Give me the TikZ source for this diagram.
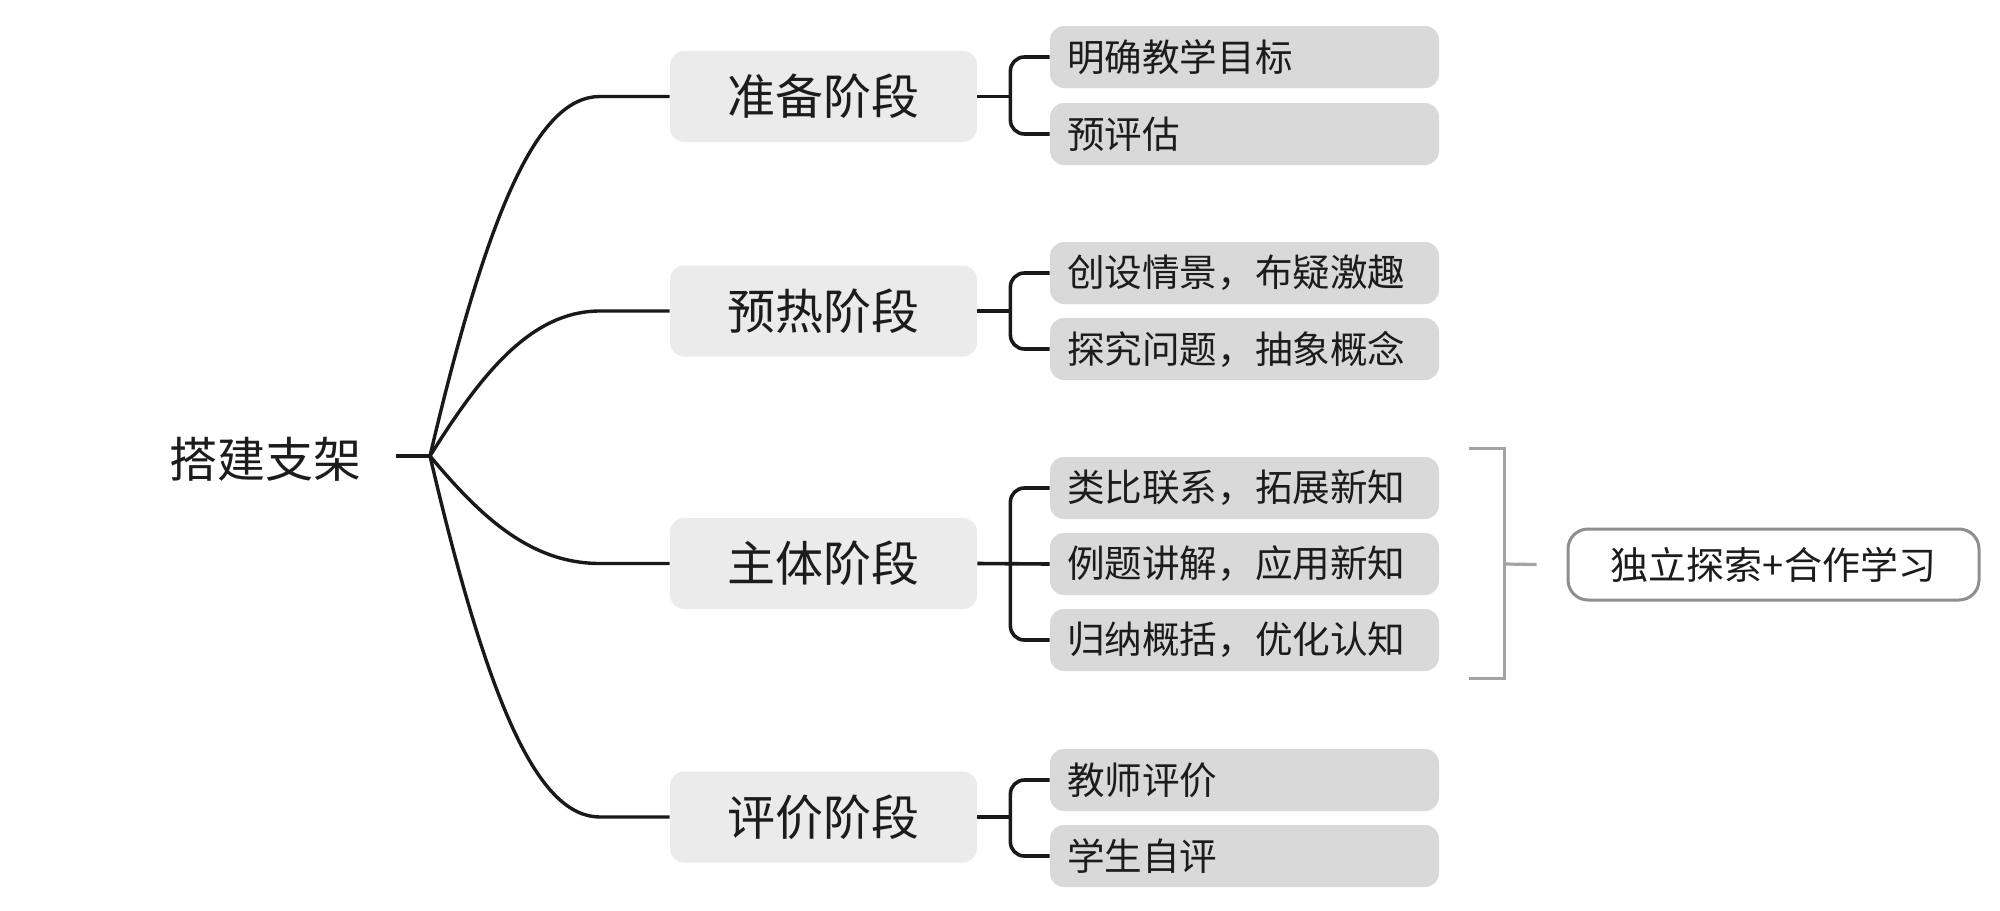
\documentclass[tikz,border=0pt]{standalone}
\usepackage{fontspec}
\setmainfont{Noto Sans CJK SC}
\usepackage{tikz}
\usepackage{xcolor}
\definecolor{stagegray}{HTML}{EBEBEB}
\definecolor{subgray}{HTML}{D9D9D9}
\definecolor{brkgray}{HTML}{A3A3A3}
\definecolor{boxgray}{HTML}{8E8E8E}
\definecolor{inkc}{HTML}{1C1C1C}

\begin{document}
\begin{tikzpicture}[x=0.5pt,y=-0.5pt,text=inkc]%
  \tikzstyle{rootn}=[inner sep=0,font=\fontsize{24}{28}\selectfont]
  \tikzstyle{stagen}=[rectangle,rounded corners=7pt,fill=stagegray,minimum width=153.5pt,minimum height=45.5pt,inner sep=0,font=\fontsize{24}{28}\selectfont]
  \tikzstyle{subn}=[rectangle,rounded corners=7pt,fill=subgray,text width=177.5pt,inner xsep=8.5pt,inner ysep=0,minimum height=31pt,align=left,font=\fontsize{18.8}{22}\selectfont]
  \tikzstyle{boxn}=[rectangle,rounded corners=10pt,draw=boxgray,line width=1.5pt,minimum width=205.5pt,minimum height=35.5pt,inner sep=0,font=\fontsize{19}{22}\selectfont]
  \tikzstyle{branch}=[line width=1.7pt,black!90]
  \tikzstyle{brk}=[line width=1.8pt,black!90,rounded corners=7pt]
  \tikzstyle{gbrk}=[line width=1.6pt,brkgray]
  \useasboundingbox (0,0) rectangle (2000,910);
  % root and stages
  \node(root)[rootn] at (265,459) {搭建支架};
  \coordinate (hub) at (430,456);
  \coordinate (bend) at (600,456);
  \node(s1)[stagen] at (823.5,96.5) {准备阶段};
  \node(s2)[stagen] at (823.5,311) {预热阶段};
  \node(s3)[stagen] at (823.5,563.5) {主体阶段};
  \node(s4)[stagen] at (823.5,817) {评价阶段};
  % leaves
  \node(s1a)[subn] at (1244.5,57) {明确教学目标};
  \node(s1b)[subn] at (1244.5,134) {预评估};
  \node(s2a)[subn] at (1244.5,273) {创设情景，布疑激趣};
  \node(s2b)[subn] at (1244.5,349) {探究问题，抽象概念};
  \node(s3a)[subn] at (1244.5,488) {类比联系，拓展新知};
  \node(s3b)[subn] at (1244.5,564) {例题讲解，应用新知};
  \node(s3c)[subn] at (1244.5,640) {归纳概括，优化认知};
  \node(s4a)[subn] at (1244.5,780) {教师评价};
  \node(s4b)[subn] at (1244.5,856) {学生自评};
  \node(box)[boxn] at (1773.5,564.5) {独立探索+合作学习};
  % connectors
  \draw[branch] ([shift={(35,-3)}]root.east) -- (hub);
  \draw[branch] (hub) .. controls +(60,-256) and +(-60,0) .. (s1.west -| bend) -- (s1.west);
  \draw[branch] (hub) .. controls +(50,-80) and +(-70,0) .. (s2.west -| bend) -- (s2.west);
  \draw[branch] (hub) .. controls +(50,60) and +(-70,0) .. (s3.west -| bend) -- (s3.west);
  \draw[branch] (hub) .. controls +(60,257) and +(-60,0) .. (s4.west -| bend) -- (s4.west);
  \foreach \s in {1,2,4}{
    \draw[brk] (s\s.east) -- ([shift={(33,0)}]s\s.east);
    \draw[brk] (s\s a.west) -| ([shift={(33,0)}]s\s.east) |- (s\s b.west);
  }
  \draw[brk] (s3.east) -- (s3b.west);
  \draw[brk] (s3a.west) -| ([shift={(33,0)}]s3.east) |- (s3c.west);
  % gray bracket
  \coordinate (gb) at ([shift={(65,0)}]s3b.east);
  \draw[gbrk] ([shift={(30,-8)}]s3a.north east) -| ([shift={(65,7)}]s3c.south east) -- ([shift={(30,7)}]s3c.south east);
  \draw[gbrk] (gb) -- ([shift={(-30,0)}]box.west);
\end{tikzpicture}
\end{document}
